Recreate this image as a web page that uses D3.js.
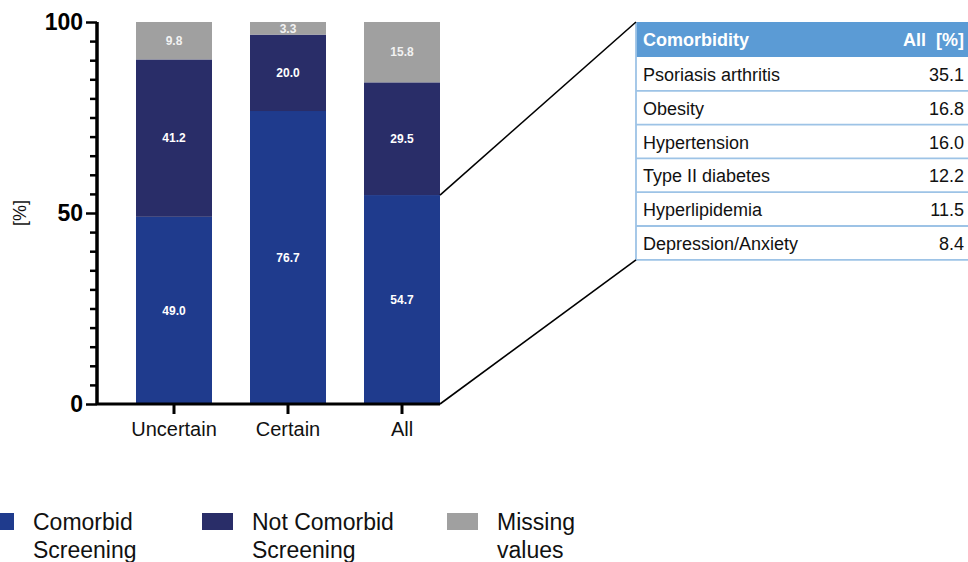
<!DOCTYPE html>
<html><head><meta charset="utf-8">
<script src="https://cdn.jsdelivr.net/npm/d3@7"></script>
<style>
html,body{margin:0;padding:0;background:#fff;}
svg{display:block;font-family:"Liberation Sans",Arial,Helvetica,sans-serif;}
</style></head>
<body>
<svg id="c" width="968" height="562"></svg>
<script>
const categories = ["Uncertain", "Certain", "All"];
const seriesNames = ["Comorbid Screening", "Not Comorbid Screening", "Missing values"];
const comorbid = [49.0, 76.7, 54.7];
const notComorbid = [41.2, 20.0, 29.5];
const missing = [9.8, 3.3, 15.8];
const yTicksMajor = [0, 50, 100];
const yTicksMinor = [5,10,15,20,25,30,35,40,45,55,60,65,70,75,80,85,90,95];
const tableHeader = ["Comorbidity", "All  [%]"];
const comorbidities = ["Psoriasis arthritis", "Obesity", "Hypertension", "Type II diabetes", "Hyperlipidemia", "Depression/Anxiety"];
const allPct = [35.1, 16.8, 16.0, 12.2, 11.5, 8.4];

const colors = ["#1f3b8d", "#292d68", "#a0a0a0"];
const svg = d3.select("#c");

const x = d3.scaleBand().domain(categories).range([98, 478]).padding(1/3);
const y = d3.scaleLinear().domain([0, 100]).range([404, 22]);

// stacked data
const rows = categories.map((c, i) => ({cat: c, s0: comorbid[i], s1: notComorbid[i], s2: missing[i]}));
const stack = d3.stack().keys(["s0", "s1", "s2"]);
const series = stack(rows);

const g = svg.append("g");
series.forEach((s, si) => {
  g.selectAll(null).data(s).enter().append("rect")
    .attr("x", d => x(d.data.cat))
    .attr("width", x.bandwidth())
    .attr("y", d => y(d[1]))
    .attr("height", d => y(d[0]) - y(d[1]))
    .attr("fill", colors[si]);
});
series.forEach((s, si) => {
  g.selectAll(null).data(s).enter().append("text")
    .attr("x", d => x(d.data.cat) + x.bandwidth() / 2)
    .attr("y", d => y((d[0] + d[1]) / 2))
    .attr("dy", "0.35em")
    .attr("text-anchor", "middle")
    .attr("fill", si === 2 ? "#f2f2f2" : "#ffffff")
    .attr("font-size", 12).attr("font-weight", "bold")
    .text(d => (d[1] - d[0]).toFixed(1));
});

// Y axis
const yAxisMinor = d3.axisLeft(y).tickValues(yTicksMinor).tickSize(7).tickFormat("");
const yAxisMajor = d3.axisLeft(y).tickValues(yTicksMajor).tickSize(11).tickPadding(3).tickFormat(d3.format("d"));
const ya = svg.append("g").attr("transform", "translate(97,0)");
ya.call(yAxisMinor);
const yb = svg.append("g").attr("transform", "translate(97,0)").call(yAxisMajor);
[ya, yb].forEach(a => {
  a.selectAll("path").attr("stroke", "#000").attr("stroke-width", 3).attr("d", `M0,${y(100)}V${y(0)}`);
  a.selectAll("line").attr("stroke", "#000").attr("stroke-width", 2.5);
});
yb.selectAll("text").attr("font-size", 23).attr("font-weight", "bold").attr("fill", "#000")
  .attr("font-family", "'Liberation Sans',Arial,sans-serif");

// X axis
const xa = svg.append("g").attr("transform", `translate(0,${y(0)})`)
  .call(d3.axisBottom(x).tickSize(10).tickPadding(8));
xa.select("path").attr("stroke", "#000").attr("stroke-width", 3).attr("d", `M97,0H440`);
xa.selectAll("line").attr("stroke", "#000").attr("stroke-width", 3);
xa.selectAll("text").attr("font-size", 20).attr("fill", "#111")
  .attr("font-family", "'Liberation Sans',Arial,sans-serif");

// Y label
svg.append("text").attr("transform", `translate(26,${y(50)}) rotate(-90)`)
  .attr("text-anchor", "middle").attr("font-size", 18).attr("fill", "#111").text("[%]");

// Table
const tX = 636, tW = 340, headTop = 22, headH = 35, rowH = 33.8;
const tbl = svg.append("g");
tbl.append("rect").attr("x", tX).attr("y", headTop).attr("width", tW).attr("height", headH).attr("fill", "#5b9bd5");
tbl.append("text").attr("x", tX + 7).attr("y", headTop + 24).attr("fill", "#fff")
  .attr("font-size", 18).attr("font-weight", "bold").text(tableHeader[0]);
tbl.append("text").attr("x", 964).attr("y", headTop + 24).attr("fill", "#fff").attr("text-anchor", "end")
  .attr("font-size", 18).attr("font-weight", "bold").attr("xml:space", "preserve").style("white-space", "pre").text(tableHeader[1]);
const rowTop = headTop + headH;
const rowsG = tbl.selectAll("g.r").data(comorbidities).enter().append("g")
  .attr("transform", (d, i) => `translate(0,${rowTop + i * rowH})`);
rowsG.append("text").attr("x", tX + 7).attr("y", 24).attr("font-size", 18).attr("fill", "#111").text(d => d);
rowsG.append("text").attr("x", 964).attr("y", 24).attr("font-size", 18).attr("fill", "#111")
  .attr("text-anchor", "end").text((d, i) => allPct[i].toFixed(1));
rowsG.append("line").attr("x1", tX).attr("x2", tX + tW).attr("y1", rowH).attr("y2", rowH)
  .attr("stroke", "#9dc3e6").attr("stroke-width", 1.8);
const tableBottom = rowTop + comorbidities.length * rowH;
tbl.append("line").attr("x1", tX).attr("x2", tX).attr("y1", headTop).attr("y2", tableBottom)
  .attr("stroke", "#9dc3e6").attr("stroke-width", 1.8);

// connector lines
const allX = x("All") + x.bandwidth();
svg.append("line").attr("x1", allX).attr("y1", y(comorbid[2])).attr("x2", tX).attr("y2", headTop)
  .attr("stroke", "#000").attr("stroke-width", 1.6);
svg.append("line").attr("x1", allX).attr("y1", y(0)).attr("x2", tX).attr("y2", tableBottom)
  .attr("stroke", "#000").attr("stroke-width", 1.6);

// Legend
const legX = [-17, 202, 447];
const legLines = [["Comorbid", "Screening"], ["Not Comorbid", "Screening"], ["Missing", "values"]];
const lg = svg.selectAll("g.lg").data(seriesNames).enter().append("g")
  .attr("transform", (d, i) => `translate(${legX[i]},513)`);
lg.append("rect").attr("width", 31).attr("height", 17).attr("fill", (d, i) => colors[i]);
lg.each(function(d, i) {
  const t = d3.select(this).append("text").attr("x", 50).attr("font-size", 23).attr("fill", "#111");
  legLines[i].forEach((ln, k) => t.append("tspan").attr("x", 50).attr("y", 17 + k * 28).text(ln));
});
</script>
</body></html>
